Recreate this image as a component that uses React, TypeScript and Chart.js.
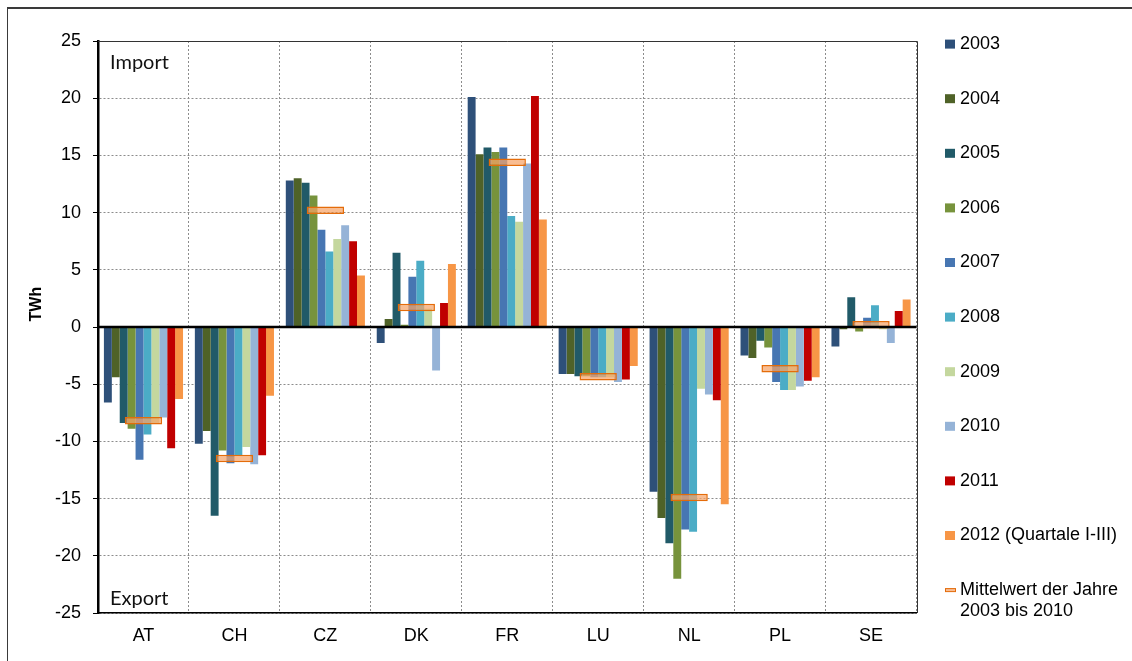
import React, { useEffect, useRef } from 'react';
import { Chart, registerables } from 'chart.js';

Chart.register(...registerables);

// ---------- data ----------
const countries = ['AT', 'CH', 'CZ', 'DK', 'FR', 'LU', 'NL', 'PL', 'SE'];
const yearLabels = ['2003', '2004', '2005', '2006', '2007', '2008', '2009', '2010', '2011', '2012 (Quartale I-III)'];
const v2003 = [-6.6, -10.2, 12.8, -1.4, 20.1, -4.1, -14.4, -2.5, -1.7];
const v2004 = [-4.4, -9.1, 13.0, 0.7, 15.1, -4.1, -16.7, -2.7, -0.2];
const v2005 = [-8.4, -16.5, 12.6, 6.5, 15.7, -4.3, -18.9, -1.2, 2.6];
const v2006 = [-8.9, -10.8, 11.5, 0.2, 15.3, -4.3, -22.0, -1.8, -0.4];
const v2007 = [-11.6, -11.9, 8.5, 4.4, 15.7, -4.4, -17.7, -4.8, 0.8];
const v2008 = [-9.4, -11.2, 6.6, 5.8, 9.7, -4.4, -17.9, -5.5, 1.9];
const v2009 = [-8.4, -10.5, 7.7, 1.6, 9.2, -4.4, -5.4, -5.5, -0.2];
const v2010 = [-7.9, -12.0, 8.9, -3.8, 14.3, -4.8, -5.9, -5.2, -1.4];
const v2011 = [-10.6, -11.2, 7.5, 2.1, 20.2, -4.6, -6.4, -4.7, 1.4];
const v2012 = [-6.3, -6.0, 4.5, 5.5, 9.4, -3.4, -15.5, -4.4, 2.4];
const mean2003to2010 = [-8.2, -11.5, 10.2, 1.7, 14.4, -4.35, -14.9, -3.65, 0.2];
const meanLabel = ['Mittelwert der Jahre', '2003 bis 2010'];
const yMin = -25;
const yMax = 25;
const yStep = 5;
const axisTitle = 'TWh';
const importLabel = 'Import';
const exportLabel = 'Export';

const seriesValues = [v2003, v2004, v2005, v2006, v2007, v2008, v2009, v2010, v2011, v2012];
const seriesColors = ['#2E5079', '#4F6228', '#215A68', '#77933C', '#4776B2', '#4BACC6', '#C4D79E', '#95B3D7', '#C00000', '#F79646'];
const meanHalfHeight = 0.33;

const FONT = '"Liberation Sans", Arial, sans-serif';

const decorPlugin = {
  id: 'decor',
  afterDatasetsDraw(chart: any) {
    const { ctx, chartArea: a, scales } = chart;
    const y0 = scales.y.getPixelForValue(0);
    ctx.save();
    ctx.strokeStyle = '#000';
    ctx.lineWidth = 2.5;
    ctx.beginPath();
    ctx.moveTo(a.left, y0);
    ctx.lineTo(a.right, y0);
    ctx.stroke();
    ctx.restore();
  },
  afterDraw(chart: any) {
    const { ctx, chartArea: a } = chart;
    ctx.save();
    // plot frame (top / right)
    ctx.strokeStyle = '#333';
    ctx.lineWidth = 1;
    ctx.beginPath();
    ctx.moveTo(a.left, Math.round(a.top) + 0.5);
    ctx.lineTo(Math.round(a.right) + 0.5, Math.round(a.top) + 0.5);
    ctx.lineTo(Math.round(a.right) + 0.5, a.bottom);
    ctx.stroke();

    // Import / Export
    ctx.fillStyle = '#111';
    ctx.font = '20px Lato, "Open Sans", sans-serif';
    ctx.textAlign = 'left';
    ctx.textBaseline = 'alphabetic';
    ctx.fillText(importLabel, a.left + 12, a.top + 28);
    ctx.fillText(exportLabel, a.left + 12, a.bottom - 8);

    // axis title
    ctx.save();
    ctx.translate(29, chart.scales.y.getPixelForValue(2));
    ctx.rotate(-Math.PI / 2);
    ctx.font = 'bold 16px ' + FONT;
    ctx.textAlign = 'center';
    ctx.textBaseline = 'middle';
    ctx.fillStyle = '#000';
    ctx.fillText(axisTitle, 0, 0);
    ctx.restore();

    // legend
    const lx = a.right + 28.5;
    ctx.font = '18px ' + FONT;
    ctx.textBaseline = 'middle';
    ctx.textAlign = 'left';
    chart.data.datasets.forEach((ds: any, i: number) => {
      const cy = 35.1 + i * 54.6;
      if (Array.isArray(ds.label)) {
        ctx.fillStyle = ds.backgroundColor;
        ctx.fillRect(lx, cy - 1.5, 11, 3);
        ctx.strokeStyle = ds.borderColor;
        ctx.lineWidth = 1;
        ctx.strokeRect(lx + 0.5, cy - 1.5, 10, 3);
        ctx.fillStyle = '#000';
        ds.label.forEach((t: string, k: number) => ctx.fillText(t, lx + 15, cy + k * 20.5));
      } else {
        ctx.fillStyle = ds.backgroundColor;
        ctx.fillRect(lx, cy - 4.5, 10, 9);
        ctx.fillStyle = '#000';
        ctx.fillText(ds.label, lx + 15, cy);
      }
    });
    ctx.restore();
  },
};

export default function App() {
  const ref = useRef<HTMLCanvasElement>(null);

  useEffect(() => {
    if (!ref.current) return;
    const datasets: any[] = seriesValues.map((d, i) => ({
      type: 'bar',
      label: yearLabels[i],
      data: d,
      backgroundColor: seriesColors[i],
      borderWidth: 0,
      categoryPercentage: 0.87,
      barPercentage: 1,
      order: 1,
    }));
    datasets.push({
      type: 'bar',
      label: meanLabel,
      data: mean2003to2010.map((m) => [m - meanHalfHeight, m + meanHalfHeight]),
      backgroundColor: 'rgba(247,164,104,0.72)',
      borderColor: '#E46C0A',
      borderWidth: 1.5,
      borderSkipped: false,
      grouped: false,
      categoryPercentage: 1,
      barPercentage: 0.41,
      order: 0,
    });

    const chart = new Chart(ref.current, {
      type: 'bar',
      data: { labels: countries, datasets },
      options: {
        animation: false,
        responsive: true,
        maintainAspectRatio: false,
        layout: { padding: { top: 32, right: 215.5, bottom: 0, left: 0 } },
        plugins: {
          legend: { display: false },
          tooltip: { enabled: false },
          title: { display: false },
        },
        scales: {
          x: {
            type: 'category',
            offset: true,
            afterFit: (s: any) => { s.height = 48; },
            grid: {
              offset: true,
              color: '#8c8c8c',
              lineWidth: 1,
              drawTicks: false,
            },
            border: { display: true, color: '#000', width: 1.5, dash: [2, 2] },
            ticks: { color: '#000', padding: 12, font: { family: FONT, size: 18 } },
          },
          y: {
            min: yMin,
            max: yMax,
            afterFit: (s: any) => { s.width = 90; },
            ticks: { stepSize: yStep, color: '#000', padding: 12, font: { family: FONT, size: 18 } },
            grid: {
              color: '#8c8c8c',
              lineWidth: 1,
              tickLength: 5,
              tickColor: '#000',
              tickWidth: 1,
              tickBorderDash: [],
            },
            border: { display: true, color: '#000', width: 2.5, dash: [2, 2] },
          },
        },
      } as any,
      plugins: [decorPlugin],
    });
    return () => chart.destroy();
  }, []);

  return (
    <div
      style={{
        position: 'absolute',
        left: 7,
        top: 7,
        width: 1125,
        height: 654,
        boxSizing: 'border-box',
        borderTop: '2px solid #3a3a3a',
        borderLeft: '1px solid #3a3a3a',
        background: '#fff',
      }}
    >
      <div style={{ position: 'relative', width: 1124, height: 652 }}>
        <canvas ref={ref} />
      </div>
    </div>
  );
}
